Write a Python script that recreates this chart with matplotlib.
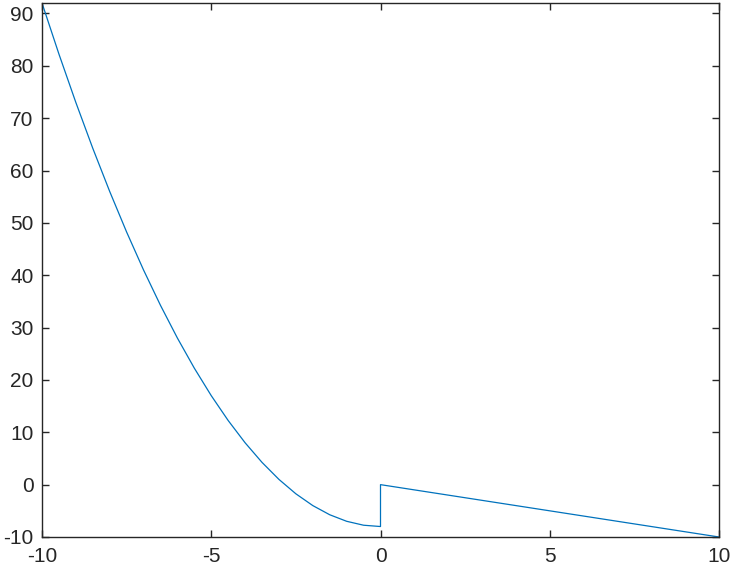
import numpy as np
import matplotlib.pyplot as plt

# values
x_left = [-10, -9.5, -9, -8.5, -8, -7.5, -7, -6.5, -6, -5.5, -5,
          -4.5, -4, -3.5, -3, -2.5, -2, -1.5, -1, -0.5, 0]
y_left = [92, 82.25, 73, 64.25, 56, 48.25, 41, 34.25, 28, 22.25, 17,
          12.25, 8, 4.25, 1, -1.75, -4, -5.75, -7, -7.75, -8]
x_right = [0, 10]
y_right = [0, -10]

x_ticks = [-10, -5, 0, 5, 10]
y_ticks = [-10, 0, 10, 20, 30, 40, 50, 60, 70, 80, 90]

plt.rcParams['font.family'] = ['Liberation Sans', 'DejaVu Sans']
plt.rcParams['axes.unicode_minus'] = False

fig = plt.figure(figsize=(7.34, 5.71), dpi=100)
ax = fig.add_axes([42 / 734, 34 / 571, 677 / 734, 534 / 571])

x_all = np.concatenate([x_left, x_right])
y_all = np.concatenate([y_left, y_right])
ax.plot(x_all, y_all, color='#0072BD', linewidth=0.9)

ax.set_xlim(-10, 10)
ax.set_ylim(-10, 92)
ax.set_xticks(x_ticks)
ax.set_yticks(y_ticks)

for side in ['left', 'right', 'top', 'bottom']:
    ax.spines[side].set_color('#262626')
    ax.spines[side].set_linewidth(1.0)

ax.tick_params(direction='in', length=5, width=1.0, color='#262626',
               labelcolor='#262626', labelsize=15, top=True, right=True)
ax.tick_params(axis='x', pad=7)
ax.tick_params(axis='y', pad=6)

fig.savefig('out.png', dpi=100)
